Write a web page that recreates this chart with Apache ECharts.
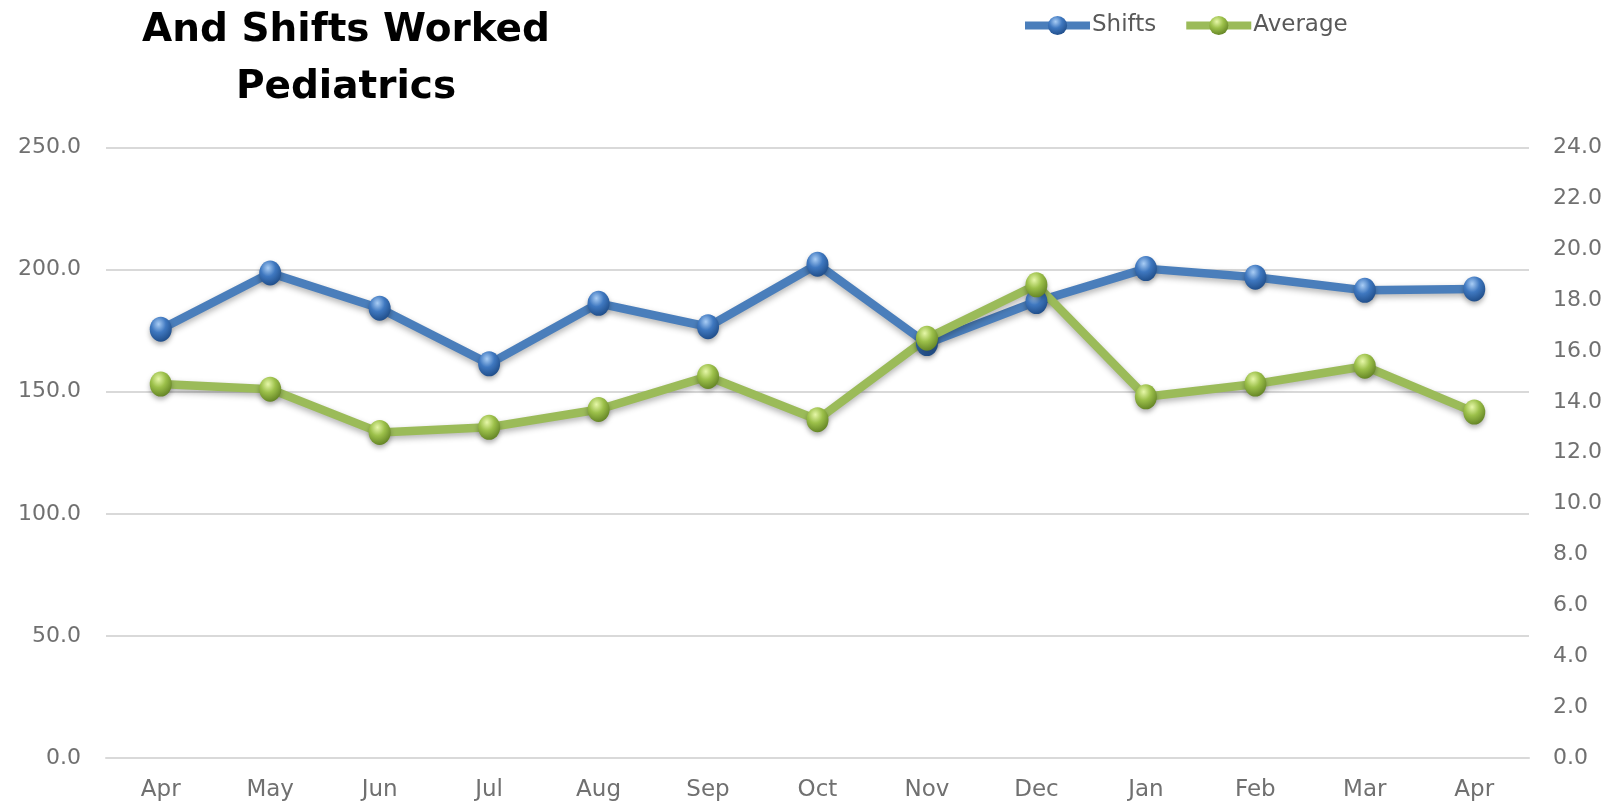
<!DOCTYPE html>
<html>
<head>
<meta charset="utf-8">
<script src="https://cdn.jsdelivr.net/npm/echarts@6/dist/echarts.min.js"></script>
<style>
  html, body { margin: 0; padding: 0; background: #fff; }
  #chart { width: 1617px; height: 812px; }
</style>
</head>
<body>
<div id="chart"></div>
<script>
const months = ['Apr', 'May', 'Jun', 'Jul', 'Aug', 'Sep', 'Oct', 'Nov', 'Dec', 'Jan', 'Feb', 'Mar', 'Apr'];
const shifts = [175.6, 198.6, 184.2, 161.4, 186.2, 176.6, 202.2, 169.7, 186.9, 200.4, 196.9, 191.5, 192.1];
const average = [14.7, 14.5, 12.8, 13.0, 13.7, 15.0, 13.3, 16.5, 18.6, 14.2, 14.7, 15.4, 13.6];

const FONT = 'DejaVu Sans';

function ball(light, mid, dark) {
    return new echarts.graphic.RadialGradient(0.4, 0.3, 0.75, [
        { offset: 0, color: light },
        { offset: 0.45, color: mid },
        { offset: 1, color: dark }
    ]);
}

function PaintChart() {
    const chart = echarts.init(document.getElementById('chart'));
    const option = {
        animation: false,
        backgroundColor: '#fff',
        title: {
            text: 'And Shifts Worked\nPediatrics',
            left: 341,
            top: -3,
            textAlign: 'center',
            textStyle: {
                fontFamily: FONT,
                fontWeight: 'bold',
                fontSize: 39,
                lineHeight: 57,
                color: '#000'
            }
        },
        legend: {
            left: 1016,
            top: 9,
            itemWidth: 65,
            itemHeight: 24,
            itemGap: 26,
            lineStyle: { width: 8 },
            textStyle: {
                fontFamily: FONT,
                fontSize: 23,
                color: '#595959',
                padding: [0, 0, 0, -3]
            },
            data: ['Shifts', 'Average']
        },
        grid: {
            left: 106,
            right: 88,
            top: 147.5,
            bottom: 54
        },
        xAxis: {
            type: 'category',
            data: months,
            axisLine: { show: true, lineStyle: { color: '#d9d9d9', width: 2 } },
            axisTick: { show: false },
            axisLabel: {
                fontFamily: FONT,
                fontSize: 23,
                color: '#707070',
                margin: 21
            }
        },
        yAxis: [
            {
                type: 'value',
                min: 0,
                max: 250,
                interval: 50,
                axisLine: { show: false },
                axisTick: { show: false },
                axisLabel: {
                    fontFamily: FONT,
                    fontSize: 22,
                    color: '#707070',
                    margin: 25,
                    formatter: v => v.toFixed(1)
                },
                splitLine: { lineStyle: { color: '#d9d9d9', width: 2 } }
            },
            {
                type: 'value',
                min: 0,
                max: 24,
                interval: 2,
                position: 'right',
                axisLine: { show: false },
                axisTick: { show: false },
                axisLabel: {
                    fontFamily: FONT,
                    fontSize: 22,
                    color: '#707070',
                    margin: 24,
                    formatter: v => v.toFixed(1)
                },
                splitLine: { show: false }
            }
        ],
        series: [
            {
                name: 'Shifts',
                type: 'line',
                data: shifts,
                symbol: 'circle',
                symbolSize: [22, 25],
                lineStyle: {
                    color: '#4a7ebb',
                    width: 8.5,
                    shadowColor: 'rgba(0,0,0,0.3)',
                    shadowBlur: 6,
                    shadowOffsetY: 3
                },
                itemStyle: {
                    color: ball('#a9cdf5', '#3f78c0', '#1d4a85'),
                    shadowColor: 'rgba(0,0,0,0.3)',
                    shadowBlur: 5,
                    shadowOffsetY: 3
                }
            },
            {
                name: 'Average',
                type: 'line',
                yAxisIndex: 1,
                data: average,
                symbol: 'circle',
                symbolSize: [22, 25],
                lineStyle: {
                    color: '#9bbb59',
                    width: 8.5,
                    shadowColor: 'rgba(0,0,0,0.3)',
                    shadowBlur: 6,
                    shadowOffsetY: 3
                },
                itemStyle: {
                    color: ball('#e6f7a8', '#9cc04a', '#5f7f22'),
                    shadowColor: 'rgba(0,0,0,0.3)',
                    shadowBlur: 5,
                    shadowOffsetY: 3
                }
            }
        ]
    };
    chart.setOption(option);
}

PaintChart();
</script>
</body>
</html>
